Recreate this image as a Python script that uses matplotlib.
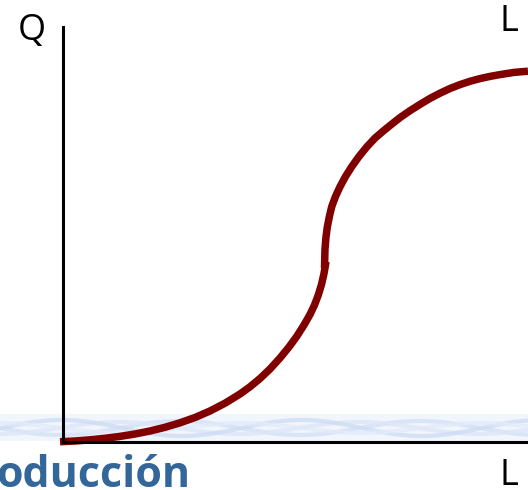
import numpy as np
from matplotlib import pyplot as plt

# ---------------- curve (units: px from the origin) ----------------
low_x = [-3, 12, 27, 42, 57, 72, 87, 102, 117, 132, 147, 162, 177, 187, 197, 207, 217,
         226, 233.7, 241, 247, 251.5, 255.3, 258.5, 261, 263]
low_y = [0.3, 1, 2.2, 3.7, 5.6, 8, 11, 14.7, 19.2, 24.5, 31, 38.8, 48, 55.2, 63.5, 73, 84,
         95, 105.5, 117, 127.5, 137, 147, 157.5, 168.5, 180.3]
up_x = [261.5, 262, 263, 264.3, 266.5, 268.7, 272.5, 277, 282.5, 288.7, 296, 303.7, 312,
        320.3, 328.5, 337, 347, 357, 367, 377, 387, 397, 407, 417, 427, 437, 451, 465]
up_y = [174, 193, 205, 215, 226, 235.3, 245.5, 255.3, 265.5, 275.3, 285.5, 295.0, 303.9,
        311.0, 317.7, 324.4, 331.3, 337.6, 343.6, 348.8, 353.5, 357.4, 360.7, 363.4, 365.6,
        367.4, 369.6, 370.8]

fig = plt.figure(figsize=(5.28, 4.90), dpi=100)

# ---------------- decorative wave band ----------------
bg = fig.add_axes([0, 0, 1, 1])
bg.set_xlim(0, 528)
bg.set_ylim(490, 0)
bg.axis('off')
wx = np.linspace(0, 528, 400)
bg.fill_between(wx, 414, 441, color='#eef3fc', alpha=0.8, lw=0)
for ph, amp, c in [(0.0, 7, '#d3e0f6'), (1.6, 6, '#dde7f8'), (3.1, 8, '#cfdcf4'), (4.7, 5, '#e2eafa')]:
    bg.plot(wx, 428 + amp * np.sin(wx * 2 * np.pi / 240 + ph), color=c, lw=3, alpha=0.8)

# ---------------- main axes ----------------
ax = fig.add_axes([63 / 528, 48 / 490, 465 / 528, 415 / 490])
ax.patch.set_alpha(0)
ax.set_xlim(0, 465)
ax.set_ylim(0, 415)
ax.spines['top'].set_visible(False)
ax.spines['right'].set_visible(False)
ax.spines['left'].set_linewidth(2.2)
ax.spines['bottom'].set_linewidth(2.2)
ax.set_xticks([])
ax.set_yticks([])

ax.plot(low_x, low_y, color='#800000', lw=5.4, solid_capstyle='butt',
        solid_joinstyle='round', clip_on=False)
ax.plot(up_x, up_y, color='#800000', lw=5.4, solid_capstyle='butt',
        solid_joinstyle='round', clip_on=False)

# ---------------- labels ----------------
fig.text(32 / 528, 1 - 31 / 490, 'Q', fontsize=26, family='Open Sans', ha='center', va='center')
fig.text(509 / 528, 1 - 22 / 490, 'L', fontsize=26, family='Open Sans', ha='center', va='center')
fig.text(509 / 528, 1 - 476 / 490, 'L', fontsize=26, family='Open Sans', ha='center', va='center')
fig.text(-4 / 528, 1 - 487 / 490, 'oducción', fontsize=31, family='Open Sans', weight='bold',
         color='#336699', ha='left', va='baseline')

fig.savefig('out.png', dpi=100)
